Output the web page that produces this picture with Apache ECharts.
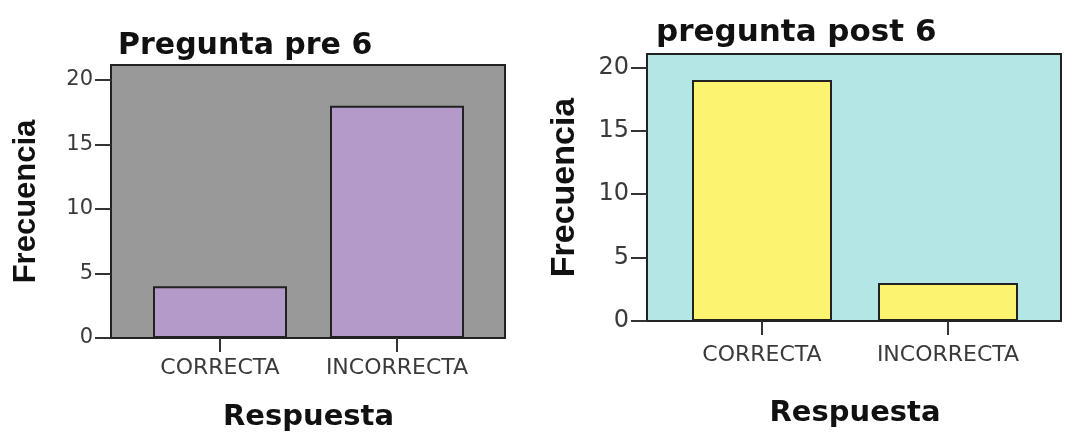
<!DOCTYPE html>
<html>
<head>
<meta charset="utf-8">
<script src="https://cdn.jsdelivr.net/npm/echarts@6/dist/echarts.min.js"></script>
<style>
html,body{margin:0;padding:0;background:#fff;}
#chart{width:1074px;height:444px;}
</style>
</head>
<body>
<div id="chart"></div>
<script>
const categories = ['CORRECTA', 'INCORRECTA'];
const preValues = [4, 18];
const postValues = [19, 3];
const yTickValues = [0, 5, 10, 15, 20];
const preTitle = 'Pregunta pre 6';
const postTitle = 'pregunta post 6';
const yName = 'Frecuencia';
const xName = 'Respuesta';
const preMax = 21.15;
const postMax = 21.05;

const chart = echarts.init(document.getElementById('chart'), null, {renderer: 'canvas'});

function yAxisShown(gridIndex, max, fontSize, nameSize, nameGap) {
  return {
    gridIndex: gridIndex, type: 'value', min: 0, max: max,
    axisLine: {show: false},
    splitLine: {show: false},
    axisTick: {show: true, length: 16, customValues: yTickValues, lineStyle: {color: '#333', width: 2}},
    axisLabel: {show: true, margin: 18, customValues: yTickValues, fontFamily: 'DejaVu Sans', fontSize: fontSize, color: '#3a3a3a'},
    name: yName, nameLocation: 'middle', nameGap: nameGap,
    nameTextStyle: {fontFamily: 'Liberation Sans', fontWeight: 'bold', fontSize: nameSize, color: '#111'}
  };
}
function yAxisHidden(gridIndex, max) {
  return {gridIndex: gridIndex, type: 'value', min: 0, max: max, show: false};
}
function xAxisHidden(gridIndex) {
  return {gridIndex: gridIndex, type: 'value', min: 0, max: 1, show: false};
}
function xAxisCat(gridIndex, margin, nameGap) {
  return {
    gridIndex: gridIndex, type: 'category', data: categories, boundaryGap: true,
    axisLine: {show: false},
    axisTick: {show: true, alignWithLabel: true, interval: 0, length: 14, lineStyle: {color: '#333', width: 2}},
    axisLabel: {interval: 0, hideOverlap: false, margin: margin, fontFamily: 'DejaVu Sans', fontSize: 22, color: '#3a3a3a'},
    splitLine: {show: false},
    name: xName, nameLocation: 'middle', nameGap: nameGap,
    nameTextStyle: {fontFamily: 'DejaVu Sans', fontWeight: 'bold', fontSize: 29, color: '#111'}
  };
}

const option = {
  animation: false,
  backgroundColor: '#ffffff',
  title: [
    {text: preTitle, left: 118, top: 31, padding: 0,
     textStyle: {fontFamily: 'DejaVu Sans', fontWeight: 'bold', fontSize: 30, color: '#111'}},
    {text: postTitle, left: 656, top: 17, padding: 0,
     textStyle: {fontFamily: 'DejaVu Sans', fontWeight: 'bold', fontSize: 31, color: '#111'}}
  ],
  grid: [
    {left: 111, top: 65, width: 394, height: 273, show: true, backgroundColor: '#999999', borderColor: '#222', borderWidth: 2},
    {left: 131.5, top: 65, width: 354, height: 273, show: false},
    {left: 647, top: 54, width: 414, height: 267, show: true, backgroundColor: '#b4e6e6', borderColor: '#222', borderWidth: 2},
    {left: 669, top: 54, width: 372, height: 267, show: false}
  ],
  xAxis: [
    xAxisHidden(0),
    xAxisCat(1, 19, 65),
    xAxisHidden(2),
    xAxisCat(3, 23, 78)
  ],
  yAxis: [
    yAxisShown(0, preMax, 21, 31, 69),
    yAxisHidden(1, preMax),
    yAxisShown(2, postMax, 24, 34, 65),
    yAxisHidden(3, postMax)
  ],
  series: [
    {type: 'bar', xAxisIndex: 1, yAxisIndex: 1, data: preValues, barWidth: 134,
     itemStyle: {color: '#b49ac8', borderColor: '#222', borderWidth: 2}},
    {type: 'bar', xAxisIndex: 3, yAxisIndex: 3, data: postValues, barWidth: 140,
     itemStyle: {color: '#fcf46f', borderColor: '#222', borderWidth: 2}}
  ]
};
chart.setOption(option);
</script>
</body>
</html>
